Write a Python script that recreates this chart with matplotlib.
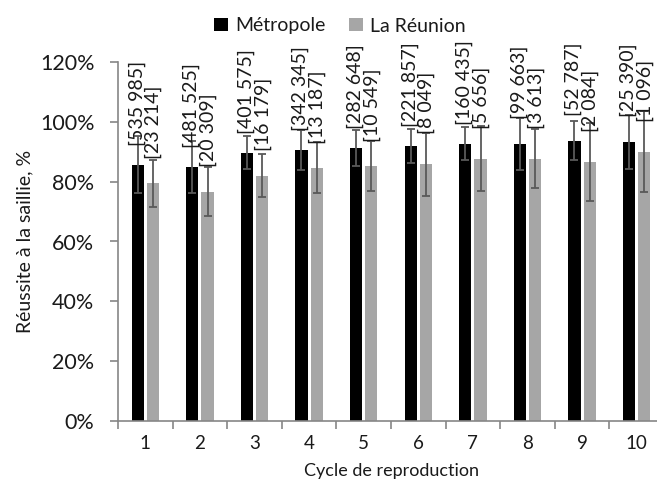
import numpy as np
import matplotlib
matplotlib.use("Agg")
import matplotlib.pyplot as plt
from matplotlib.patches import Patch

plt.rcParams['font.family'] = ['Lato', 'DejaVu Sans']

# Reproduction cycles and success rate (%) per region
cycles = ["1", "2", "3", "4", "5", "6", "7", "8", "9", "10"]
metropole = [85.6, 85.0, 89.6, 90.6, 91.2, 92.0, 92.7, 92.7, 93.7, 93.4]
metropole_err = [9.5, 8.7, 5.5, 6.8, 6.0, 5.6, 5.5, 8.7, 6.5, 9.0]
reunion = [79.4, 76.7, 82.0, 84.6, 85.2, 85.8, 87.7, 87.7, 86.7, 90.0]
reunion_err = [8.0, 8.1, 7.2, 8.5, 8.4, 10.6, 10.8, 9.8, 13.0, 13.5]

# Number of services per cycle
metropole_n = ["535 985", "481 525", "401 575", "342 345", "282 648",
               "221 857", "160 435", "99 663", "52 787", "25 390"]
reunion_n = ["23 214", "20 309", "16 179", "13 187", "10 549",
             "8 049", "5 656", "3 613", "2 084", "1 096"]

yticks = [0, 20, 40, 60, 80, 100, 120]

BLACK = "#000000"
GREY = "#a6a6a6"
AXIS = "#868686"
ERR = "#595959"
TEXT = "#1a1a1a"

fig = plt.figure(figsize=(6.57, 4.86), dpi=100)
ax = fig.add_axes([118 / 657, 65 / 486, 546 / 657, 359 / 486])

x = np.arange(1, len(cycles) + 1)
w = 0.225
off = 0.14

err_kw = dict(ecolor=ERR, elinewidth=1.3, capsize=3, capthick=1.3)
ax.bar(x - off, metropole, w, color=BLACK, yerr=metropole_err,
       error_kw=err_kw, zorder=2)
ax.bar(x + off, reunion, w, color=GREY, yerr=reunion_err,
       error_kw=err_kw, zorder=2)

for xi, v, t in zip(x - off, metropole, metropole_n):
    ax.annotate(f"[{t}]", xy=(xi, v), xytext=(-0.5, 44), textcoords="offset points",
                rotation=90, ha="center", va="center", fontsize=14,
                color=TEXT, zorder=3)
for xi, v, t in zip(x + off, reunion, reunion_n):
    ax.annotate(f"[{t}]", xy=(xi, v), xytext=(0.5, 44), textcoords="offset points",
                rotation=90, ha="center", va="center", fontsize=14,
                color=TEXT, zorder=3)

ax.set_xlim(0.5, len(cycles) + 0.5)
ax.set_ylim(0, 120)
ax.set_yticks(yticks)
ax.set_yticklabels([f"{t}%" for t in yticks], fontsize=15.5, color=TEXT)

# category boundaries carry the tick marks, labels sit at the centres
ax.set_xticks(np.arange(0.5, len(cycles) + 1, 1.0))
ax.set_xticklabels([])
ax.set_xticks(x, minor=True)
ax.set_xticklabels(cycles, minor=True, fontsize=13.5, color=TEXT)
ax.tick_params(axis="x", which="major", length=6, color=AXIS, width=1.2)
ax.tick_params(axis="x", which="minor", length=0, pad=10)
ax.tick_params(axis="y", length=6, color=AXIS, width=1.2, pad=11)

for s in ("top", "right"):
    ax.spines[s].set_visible(False)
for s in ("left", "bottom"):
    ax.spines[s].set_color(AXIS)
    ax.spines[s].set_linewidth(1.2)

ax.set_ylabel("Réussite à la saillie, %", fontsize=14, labelpad=5, color=TEXT)
ax.set_xlabel("Cycle de reproduction", fontsize=13, labelpad=8, color=TEXT)

handles = [Patch(facecolor=BLACK, label="Métropole"),
           Patch(facecolor=GREY, label="La Réunion")]
fig.legend(handles=handles, loc="upper center", bbox_to_anchor=(340 / 657, 1.0),
           ncol=2, frameon=False, fontsize=14, handlelength=0.7,
           handleheight=0.7, handletextpad=0.4, columnspacing=1.2,
           labelcolor=TEXT)

fig.savefig("out.png", dpi=100)
